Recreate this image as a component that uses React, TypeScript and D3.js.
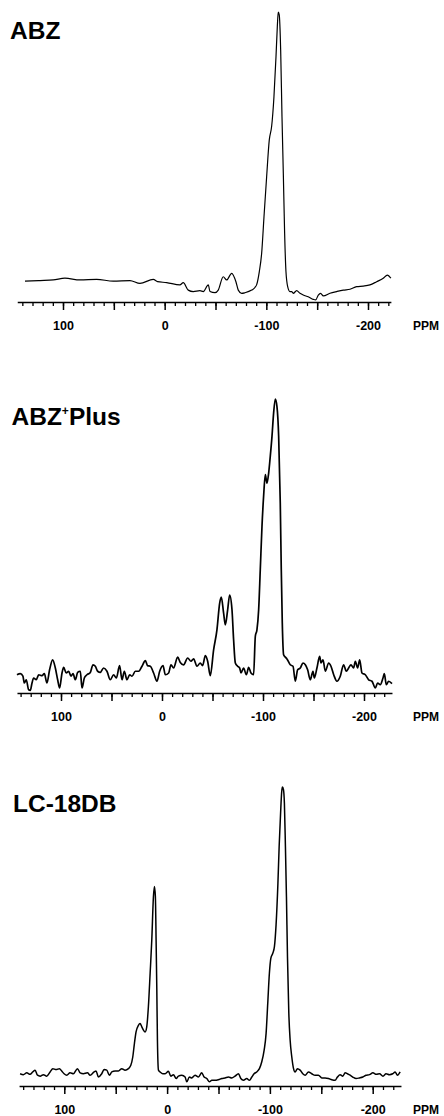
import React, { useEffect, useRef } from 'react';
import * as d3 from 'd3';

// spectra: [chemical shift (ppm), intensity (% of tallest peak)]
const abzSpectrum: [number, number][] = [
  [137.4, 7.2], [122.6, 7.4], [109.6, 7.6], [98.1, 8.2], [83.3, 7.6], [66.9, 7.8],
  [50.6, 7.2], [34.1, 7.4], [24.3, 6.4], [11.2, 7.8], [7.0, 7.0], [-2.0, 6.7],
  [-15.0, 5.9], [-18.3, 6.7], [-23.2, 4.1], [-28.1, 3.6], [-34.7, 3.9], [-38.0, 3.6],
  [-42.9, 5.9], [-44.6, 3.6], [-49.5, 3.2], [-52.7, 4.1], [-57.6, 8.7], [-61.0, 7.6],
  [-65.9, 9.9], [-70.1, 7.0], [-72.4, 4.1], [-75.7, 3.0], [-79.0, 3.2], [-85.6, 4.1],
  [-88.8, 5.0], [-90.5, 6.0], [-93.1, 10.5], [-95.4, 16.8], [-97.7, 29.4], [-100.3, 43.2],
  [-102.9, 55.9], [-105.2, 60.5], [-107.5, 70.8], [-109.5, 84.6], [-110.8, 94.9], [-111.7, 100],
  [-112.7, 99.0], [-114.1, 86.9], [-115.4, 63.9], [-116.7, 44.4], [-118.0, 23.7], [-119.3, 10.5],
  [-121.0, 5.3], [-123.2, 3.6], [-124.9, 3.6], [-126.5, 3.0], [-129.8, 3.9], [-133.1, 3.0],
  [-136.3, 2.4], [-141.2, 1.8], [-146.2, 0.9], [-148.5, 0.7], [-151.1, 2.4], [-153.4, 3.0],
  [-156.0, 2.1], [-162.6, 3.0], [-169.2, 3.6], [-175.7, 4.1], [-182.3, 4.4], [-188.8, 5.3],
  [-195.3, 5.5], [-201.9, 5.9], [-208.5, 7.0], [-215.0, 8.2], [-219.0, 9.3], [-222.5, 8.2],
];

const abzPlusSpectrum: [number, number][] = [
  [143.6, 6.2], [140.3, 6.6], [137.7, 5.7], [136.3, 3.4], [134.4, 4.5], [132.0, 1.1],
  [130.4, 0.9], [128.7, 3.4], [127.1, 5.1], [124.5, 4.5], [122.1, 6.2], [118.8, 5.9],
  [116.5, 6.6], [113.9, 3.4], [111.3, 7.9], [108.3, 11.3], [105.6, 8.5], [103.3, 4.5],
  [101.4, 1.7], [99.0, 6.8], [97.4, 8.7], [94.8, 6.8], [92.4, 7.4], [90.1, 5.7],
  [88.1, 6.6], [85.8, 4.5], [83.5, 7.0], [80.9, 7.4], [79.2, 1.7], [76.9, 5.1],
  [74.3, 6.2], [71.0, 7.0], [68.3, 9.6], [66.0, 9.1], [63.7, 7.4], [61.1, 7.0],
  [57.8, 8.5], [54.5, 7.4], [51.2, 4.5], [47.9, 6.2], [45.2, 5.1], [42.0, 9.3],
  [39.6, 4.5], [37.3, 7.4], [34.7, 4.5], [32.0, 6.2], [29.7, 5.7], [26.4, 7.4],
  [23.1, 7.4], [19.8, 9.1], [16.5, 11.0], [14.2, 9.3], [11.6, 9.1], [8.3, 6.8],
  [5.0, 4.0], [2.3, 7.4], [-1.0, 9.3], [-3.3, 6.2], [-6.6, 6.8], [-8.9, 9.6],
  [-11.5, 8.5], [-15.5, 12.2], [-18.1, 10.4], [-21.4, 9.6], [-25.4, 11.9], [-28.7, 10.8],
  [-31.3, 11.6], [-34.6, 9.1], [-37.9, 10.2], [-40.2, 9.3], [-42.9, 12.7], [-45.2, 10.8],
  [-47.8, 5.9], [-51.1, 14.7], [-54.4, 21.5], [-57.1, 30.6], [-58.7, 32.6], [-61.0, 27.2],
  [-62.7, 23.2], [-65.0, 28.3], [-67.0, 33.3], [-69.3, 28.3], [-70.9, 18.1], [-72.6, 10.2],
  [-74.9, 9.1], [-76.9, 8.5], [-78.2, 6.8], [-80.8, 8.5], [-83.5, 6.2], [-85.8, 8.7],
  [-88.1, 6.8], [-90.7, 6.2], [-92.4, 19.3], [-94.0, 21.5], [-95.7, 28.3], [-97.3, 41.9],
  [-99.0, 56.7], [-100.6, 66.9], [-102.3, 74.3], [-103.9, 71.4], [-105.6, 74.8], [-107.2, 80.5],
  [-108.9, 87.3], [-110.5, 95.2], [-112.2, 100], [-113.8, 97.5], [-115.5, 87.3], [-117.1, 64.6],
  [-118.1, 41.9], [-119.1, 23.8], [-120.4, 13.0], [-122.1, 12.2], [-123.7, 11.6], [-127.0, 9.6],
  [-129.7, 9.1], [-132.0, 4.0], [-134.3, 7.9], [-136.9, 8.5], [-139.6, 10.2], [-141.9, 9.6],
  [-144.2, 7.9], [-146.8, 4.5], [-149.5, 7.4], [-150.8, 5.1], [-153.4, 8.5], [-156.1, 12.5],
  [-157.4, 10.2], [-159.4, 11.3], [-161.7, 7.4], [-165.0, 10.2], [-167.3, 9.1], [-170.0, 6.2],
  [-173.2, 4.0], [-176.5, 5.7], [-179.8, 9.6], [-182.5, 7.4], [-184.8, 8.5], [-187.1, 9.6],
  [-189.7, 8.5], [-191.4, 10.8], [-193.7, 8.5], [-195.7, 11.3], [-198.0, 6.8], [-201.3, 6.2],
  [-204.6, 4.5], [-207.9, 4.0], [-211.2, 1.7], [-213.5, 3.4], [-216.1, 2.8], [-218.8, 5.1],
  [-220.1, 6.6], [-222.1, 2.8], [-224.4, 4.0], [-227.7, 3.2],
];

const lc18dbSpectrum: [number, number][] = [
  [143.0, 4.1], [139.8, 3.8], [136.5, 4.4], [133.3, 3.9], [130.7, 4.7], [128.4, 5.3],
  [126.1, 3.6], [123.5, 3.3], [120.3, 3.8], [117.1, 3.3], [113.8, 4.7], [111.2, 5.8],
  [108.0, 5.5], [104.7, 5.8], [102.5, 5.0], [100.2, 4.1], [97.6, 3.6], [94.4, 4.4],
  [91.1, 4.1], [87.2, 5.8], [84.6, 4.4], [81.4, 4.1], [77.5, 4.4], [74.9, 3.6],
  [71.0, 4.7], [69.1, 5.0], [66.8, 3.0], [63.6, 4.1], [61.3, 5.5], [58.7, 5.3],
  [56.1, 3.6], [53.8, 4.7], [50.6, 5.0], [47.3, 5.0], [44.1, 5.8], [40.9, 5.3],
  [37.6, 5.8], [35.3, 6.9], [33.4, 9.7], [31.8, 14.2], [30.2, 18.1], [27.9, 20.3],
  [26.3, 20.9], [24.6, 19.8], [23.0, 18.7], [21.4, 18.1], [19.8, 19.8], [18.2, 26.5],
  [16.5, 37.7], [14.9, 48.8], [13.3, 63.3], [12.3, 66.7], [11.4, 63.3], [10.7, 48.8],
  [10.0, 32.1], [9.4, 15.3], [8.4, 5.3], [6.8, 4.7], [4.2, 4.1], [1.9, 4.1],
  [-1.3, 4.9], [-3.6, 3.3], [-6.2, 3.8], [-8.8, 2.5], [-11.0, 3.3], [-14.3, 3.6],
  [-17.5, 3.0], [-19.1, 1.4], [-21.7, 3.0], [-24.0, 2.7], [-27.2, 3.6], [-30.5, 3.0],
  [-33.7, 4.4], [-36.0, 3.0], [-38.6, 2.5], [-41.2, 1.4], [-43.5, 1.9], [-46.7, 1.9],
  [-49.9, 2.1], [-53.2, 2.5], [-56.4, 2.7], [-59.7, 3.0], [-62.9, 2.7], [-66.1, 3.3],
  [-69.4, 4.1], [-71.7, 2.5], [-74.3, 1.9], [-77.5, 2.5], [-80.1, 1.9], [-82.4, 3.0],
  [-84.6, 4.1], [-87.2, 4.7], [-89.8, 5.8], [-92.1, 8.1], [-94.4, 12.0], [-96.3, 17.6],
  [-97.9, 27.6], [-99.5, 37.7], [-100.9, 42.7], [-102.8, 44.4], [-104.4, 46.6], [-106.0, 53.9],
  [-107.8, 67.8], [-109.0, 80.1], [-110.4, 91.3], [-111.5, 98.5], [-112.2, 100], [-113.2, 99.1],
  [-114.1, 94.6], [-115.1, 80.1], [-116.1, 63.3], [-117.1, 43.2], [-118.4, 24.3], [-119.7, 15.3],
  [-121.3, 9.7], [-123.0, 5.8], [-124.5, 4.7], [-126.8, 5.8], [-129.4, 5.3], [-132.0, 4.1],
  [-134.3, 3.6], [-137.5, 4.7], [-140.7, 4.1], [-144.0, 3.6], [-147.2, 3.6], [-150.5, 2.7],
  [-153.7, 2.7], [-157.0, 2.5], [-160.2, 2.1], [-163.4, 1.9], [-165.7, 3.0], [-168.3, 3.8],
  [-170.9, 3.3], [-173.2, 4.4], [-175.4, 4.1], [-178.0, 3.6], [-180.6, 3.0], [-183.9, 2.5],
  [-187.1, 2.7], [-190.4, 3.0], [-193.6, 3.6], [-196.9, 3.8], [-200.2, 4.4], [-203.5, 3.9],
  [-206.7, 4.1], [-210.0, 3.3], [-213.0, 4.1], [-216.3, 3.8], [-219.5, 4.1], [-221.8, 4.7],
  [-224.1, 3.6], [-226.7, 4.7],
];

const tickLabels = [100, 0, -100, -200];
const unitLabel = 'PPM';

// layout of the three stacked panels (page pixels)
const panels = [
  {
    title: ['ABZ', '', ''], data: abzSpectrum, domain: [145, -222.5],
    axisY: 302, x100: 63, x200: 368, peakY: 12, titleX: 10, titleY: 39, lineWidth: 1.2,
  },
  {
    title: ['ABZ', '+', 'Plus'], data: abzPlusSpectrum, domain: [143.6, -227.7],
    axisY: 693, x100: 61, x200: 364, peakY: 399, titleX: 11.5, titleY: 425, lineWidth: 1.7,
  },
  {
    title: ['LC-18DB', '', ''], data: lc18dbSpectrum, domain: [144, -227.5],
    axisY: 1086, x100: 64.3, x200: 372.7, peakY: 787, titleX: 13, titleY: 812, lineWidth: 1.5,
  },
];

const FONT = '"Liberation Sans", Arial, Helvetica, sans-serif';

const App = () => {
  const svgRef = useRef(null);

  useEffect(() => {
    document.body.style.margin = '0';
    const svg = d3.select(svgRef.current);
    svg.selectAll('*').remove();

    panels.forEach((p) => {
      const base = d3.scaleLinear().domain([100, -200]).range([p.x100, p.x200]);
      const x = d3.scaleLinear().domain(p.domain).range(p.domain.map((d) => base(d)));
      const y = d3.scaleLinear().domain([0, 100]).range([p.axisY, p.peakY]);

      const g = svg.append('g');

      // title
      const title = g
        .append('text')
        .attr('x', p.titleX)
        .attr('y', p.titleY)
        .style('font-family', FONT)
        .style('font-weight', 'bold')
        .style('font-size', '24.5px')
        .attr('fill', '#000');
      title.append('tspan').text(p.title[0]);
      if (p.title[1]) {
        title
          .append('tspan')
          .attr('dy', -10)
          .style('font-size', '12px')
          .text(p.title[1]);
        title.append('tspan').attr('dy', 10).text(p.title[2]);
      }

      // minor ticks every 10 ppm
      const minor = d3.range(-220, 150, 10).filter((v) => v <= p.domain[0] && v >= p.domain[1]);
      const major = minor.filter((v) => v % 50 === 0);

      g.append('g')
        .attr('transform', `translate(0,${p.axisY})`)
        .call(d3.axisBottom(x).tickValues(minor).tickSize(4).tickSizeOuter(0).tickFormat(() => ''))
        .call((a) => a.selectAll('path,line').attr('stroke', '#000').attr('stroke-width', 1.3));

      g.append('g')
        .attr('transform', `translate(0,${p.axisY})`)
        .call(
          d3
            .axisBottom(x)
            .tickValues(major)
            .tickSize(8)
            .tickSizeOuter(0)
            .tickPadding(11)
            .tickFormat((d) => (tickLabels.includes(d as number) ? String(d) : ''))
        )
        .call((a) => a.select('.domain').remove())
        .call((a) => a.selectAll('line').attr('stroke', '#000').attr('stroke-width', 1.5))
        .call((a) =>
          a
            .selectAll('text')
            .attr('fill', '#000')
            .style('font-family', FONT)
            .style('font-weight', 'bold')
            .style('font-size', '12.5px')
        );

      g.append('text')
        .attr('x', 413)
        .attr('y', p.axisY + 28)
        .style('font-family', FONT)
        .style('font-weight', 'bold')
        .style('font-size', '12px')
        .attr('fill', '#000')
        .text(unitLabel);

      // spectrum trace
      const line = d3
        .line<[number, number]>()
        .x((d) => x(d[0]))
        .y((d) => y(d[1]))
        .curve(d3.curveMonotoneX);

      g.append('path')
        .datum(p.data)
        .attr('d', line)
        .attr('fill', 'none')
        .attr('stroke', '#000')
        .attr('stroke-width', p.lineWidth)
        .attr('stroke-linejoin', 'round');
    });
  }, []);

  return (
    <svg
      ref={svgRef}
      width={444}
      height={1116}
      style={{ display: 'block', background: '#fff' }}
    />
  );
};

export default App;
